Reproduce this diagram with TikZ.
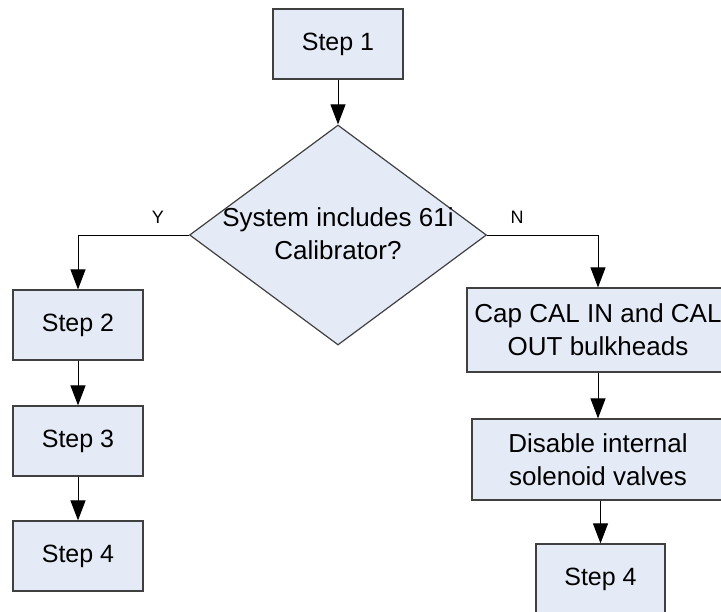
\documentclass[tikz,border=0pt]{standalone}
\usepackage{fontspec}
\setmainfont{Liberation Sans}
\usetikzlibrary{shapes.geometric,arrows.meta}
\definecolor{boxfill}{RGB}{229,235,246}
\definecolor{boxline}{RGB}{64,64,64}
\begin{document}
\begin{tikzpicture}[x=0.5pt,y=-0.5pt,
		stepbox/.style={draw=boxline,fill=boxfill,line width=0.6pt,inner sep=0pt,align=center,
			minimum width=65pt,minimum height=35pt,font=\fontsize{12.5}{16.5}\selectfont},
		longtext/.style={font=\fontsize{13}{16.5}\selectfont},
		decision/.style={diamond,draw=boxline,fill=boxfill,line width=0.6pt,inner sep=0pt,
			minimum width=148.5pt,minimum height=110pt},
		flow/.style={line width=0.5pt,-{Triangle[length=10pt,width=7.5pt]}},
		yn/.style={font=\fontsize{9}{11}\selectfont,above=2pt}]
		%\draw[help lines] (0,0) grid[step=50] (721,611);
		\useasboundingbox (0,0) rectangle (721,611);
		\node[stepbox] (step1) at (338,44) {Step 1};
		\node[decision] (dec) at (338,235) {};
		\node[align=center,longtext] (dectext) at (338,234) {System includes 61i\\Calibrator?};
		\node[stepbox] (step2L) at (78,325) {Step 2};
		\node[stepbox] (step3L) at (78,441) {Step 3};
		\node[stepbox] (step4L) at (78,556) {Step 4};
		\node[stepbox,longtext,minimum width=131pt,minimum height=42pt] (cap) at (598,330) {Cap CAL IN and CAL\\OUT bulkheads};
		\node[stepbox,longtext,minimum width=126pt,minimum height=40.5pt] (dis) at (598,459.5) {Disable internal\\solenoid valves};
		\node[stepbox,minimum width=64.5pt] (step4R) at (600.5,579) {Step 4};
		\draw[flow] (step1) -- (dec);
		\draw[flow] (dec.west) -| node[yn,pos=0.14] {Y} (step2L.north);
		\draw[flow] (dec.east) -| node[yn,pos=0.135] {N} (cap.north);
		\draw[flow] (step2L) -- (step3L);
		\draw[flow] (step3L) -- (step4L);
		\draw[flow] (cap) -- (dis);
		\draw[flow] (dis.south -| step4R) -- (step4R);
\end{tikzpicture}
\end{document}
